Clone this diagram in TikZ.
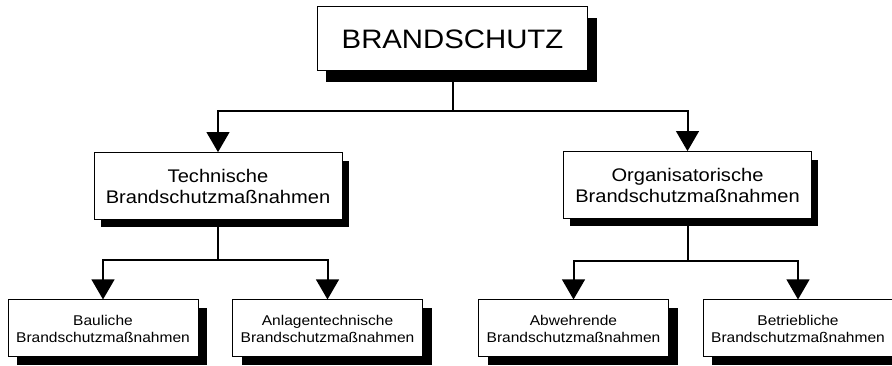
\documentclass[tikz,border=0pt]{standalone}
\usepackage{fontspec}
\setmainfont[FakeStretch=1.1]{Liberation Sans}
\usetikzlibrary{arrows.meta,shadows}

\tikzset{
	box/.style={draw, line width=0.75pt, fill=white, align=center, inner sep=0pt},
	topbox/.style={box, minimum width=203pt, minimum height=48pt, font=\fontsize{20}{24}\selectfont,
		drop shadow={shadow xshift=6.75pt, shadow yshift=-8.25pt, fill=black, opacity=1}},
	midbox/.style={box, minimum width=186pt, minimum height=50pt, font=\fontsize{13.7}{15.75}\selectfont,
		drop shadow={shadow xshift=5pt, shadow yshift=-6pt, fill=black, opacity=1}},
	lowbox/.style={box, minimum width=142.5pt, minimum height=42.75pt, font=\fontsize{10.6}{12.75}\selectfont,
		drop shadow={shadow xshift=6.75pt, shadow yshift=-6pt, fill=black, opacity=1}},
	conn/.style={line width=1.5pt, -{Triangle[width=17pt,length=15pt]}},
}

\begin{document}
\begin{tikzpicture}[x=0.75pt,y=0.75pt,yscale=-1,xscale=1]
	\useasboundingbox (0,0) rectangle (892,366);
	
	% Top Node
	\node [topbox] (brand) at (452.5,39) {BRANDSCHUTZ};
	% Middle Nodes
	\node [midbox] (tech) at (218,186) {Technische\\Brandschutzmaßnahmen};
	\node [midbox] (orga) at (687.5,185) {Organisatorische\\Brandschutzmaßnahmen};
	% Bottom Nodes
	\node [lowbox] (baul) at (103,328.5) {Bauliche\\Brandschutzmaßnahmen};
	\node [lowbox] (anla) at (327.5,328.5) {Anlagentechnische\\Brandschutzmaßnahmen};
	\node [lowbox] (abwe) at (573.5,328.5) {Abwehrende\\Brandschutzmaßnahmen};
	\node [lowbox] (betr) at (798,328.5) {Betriebliche\\Brandschutzmaßnahmen};
	
	% Connectors
	\draw [conn] (brand.south) -- ++(0,40) -| (tech.north);
	\draw [conn] (brand.south) -- ++(0,40) -| (orga.north);
	\draw [conn] (tech.south) -- ++(0,40) -| (baul.north);
	\draw [conn] (tech.south) -- ++(0,40) -| (anla.north);
	\draw [conn] (orga.south) -- ++(0,42) -| (abwe.north);
	\draw [conn] (orga.south) -- ++(0,42) -| (betr.north);
	
\end{tikzpicture}
\end{document}
